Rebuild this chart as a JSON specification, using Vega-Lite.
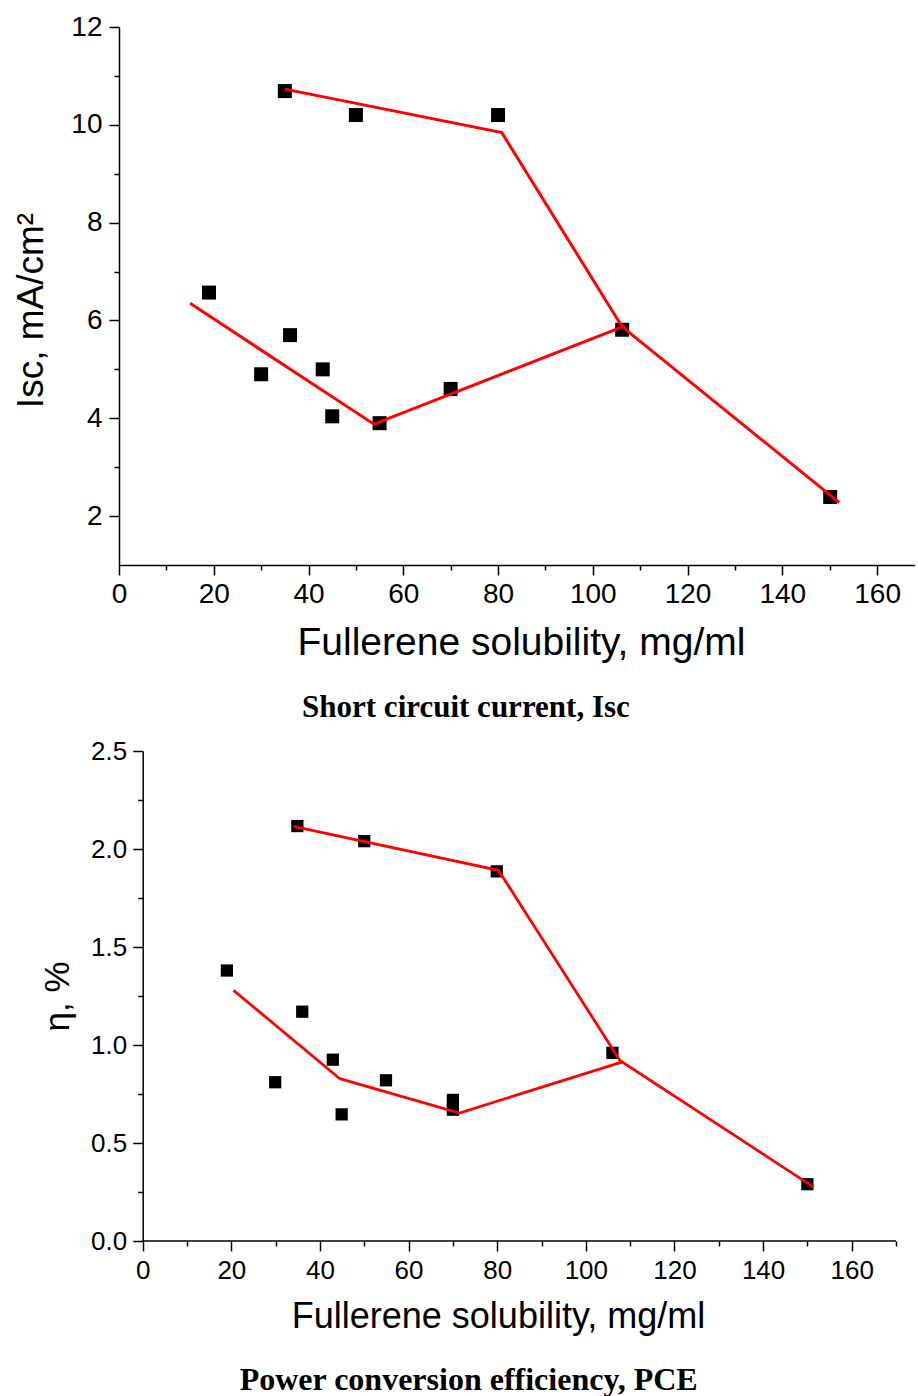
{
  "$schema": "https://vega.github.io/schema/vega-lite/v6.json",
  "padding": {"left": 12, "top": 13, "right": 0, "bottom": 0},
  "background": "white",
  "spacing": 15,
  "bounds": "full",
  "config": {
    "view": {"stroke": null},
    "axis": {"domainColor": "black", "tickColor": "black", "domainWidth": 1.5, "tickWidth": 1.5, "labelColor": "black", "titleColor": "black", "labelFont": "Liberation Sans", "titleFont": "Liberation Sans", "titleFontWeight": "normal", "grid": false, "tickSize": 10, "labelFlush": false, "labelOverlap": false},
    "title": {"font": "Liberation Serif", "fontWeight": "bold", "color": "black", "orient": "bottom", "anchor": "middle", "frame": "bounds"}
  },
  "datasets": {
    "isc_points": [
      {"solubility": 19.0, "value": 6.57},
      {"solubility": 30.0, "value": 4.90},
      {"solubility": 36.1, "value": 5.70},
      {"solubility": 43.0, "value": 5.00},
      {"solubility": 45.0, "value": 4.04},
      {"solubility": 55.0, "value": 3.90},
      {"solubility": 70.0, "value": 4.60},
      {"solubility": 106.2, "value": 5.81},
      {"solubility": 150.1, "value": 2.39},
      {"solubility": 35.0, "value": 10.69},
      {"solubility": 50.0, "value": 10.20},
      {"solubility": 80.0, "value": 10.20}
    ],
    "isc_fit": [
      {"series": "a", "solubility": 35.0, "value": 10.73},
      {"series": "a", "solubility": 80.8, "value": 9.84},
      {"series": "a", "solubility": 105.8, "value": 5.93},
      {"series": "a", "solubility": 107.6, "value": 5.76},
      {"series": "a", "solubility": 152.0, "value": 2.28},
      {"series": "b", "solubility": 15.0, "value": 6.35},
      {"series": "b", "solubility": 53.8, "value": 3.88},
      {"series": "b", "solubility": 106.5, "value": 5.88}
    ],
    "pce_points": [
      {"solubility": 19.0, "value": 1.38},
      {"solubility": 29.9, "value": 0.81},
      {"solubility": 36.0, "value": 1.17},
      {"solubility": 42.9, "value": 0.925},
      {"solubility": 44.9, "value": 0.646},
      {"solubility": 54.9, "value": 0.82},
      {"solubility": 70.0, "value": 0.72},
      {"solubility": 70.0, "value": 0.67},
      {"solubility": 106.0, "value": 0.96},
      {"solubility": 150.0, "value": 0.29},
      {"solubility": 34.9, "value": 2.117},
      {"solubility": 50.0, "value": 2.04},
      {"solubility": 79.9, "value": 1.886}
    ],
    "pce_fit": [
      {"series": "a", "solubility": 34.0, "value": 2.115},
      {"series": "a", "solubility": 80.3, "value": 1.891},
      {"series": "a", "solubility": 107.7, "value": 0.921},
      {"series": "a", "solubility": 151.4, "value": 0.275},
      {"series": "b", "solubility": 20.5, "value": 1.279},
      {"series": "b", "solubility": 44.5, "value": 0.828},
      {"series": "b", "solubility": 71.5, "value": 0.653},
      {"series": "b", "solubility": 108.1, "value": 0.913}
    ]
  },
  "vconcat": [
    {
      "title": {"text": "Short circuit current, Isc", "fontSize": 31, "offset": 31, "dx": 2},
      "width": 796,
      "height": 538,
      "layer": [
        {
          "data": {"name": "isc_points"},
          "mark": {"type": "square", "size": 196, "color": "black", "opacity": 1},
          "encoding": {
            "x": {"field": "solubility", "type": "quantitative", "scale": {"domain": [0, 168], "nice": false, "zero": false},
              "axis": {"orient": "bottom", "values": [0, 20, 40, 60, 80, 100, 120, 140, 160], "title": "Fullerene solubility, mg/ml", "titleFontSize": 39, "titleX": 402, "labelFontSize": 28, "labelPadding": 5, "titlePadding": 15}},
            "y": {"field": "value", "type": "quantitative", "scale": {"domain": [1, 12], "nice": false, "zero": false},
              "axis": {"orient": "left", "values": [2, 4, 6, 8, 10, 12], "title": "Isc, mA/cm²", "titleFontSize": 37, "titleY": 283, "labelFontSize": 28, "labelPadding": 7, "titlePadding": 20}}
          }
        },
        {
          "data": {"name": "isc_fit"},
          "mark": {"type": "line", "color": "#ff0000", "strokeWidth": 3},
          "encoding": {
            "x": {"field": "solubility", "type": "quantitative", "scale": {"domain": [0, 168], "nice": false, "zero": false},
              "axis": {"orient": "bottom", "values": [10, 30, 50, 70, 90, 110, 130, 150], "labels": false, "domain": false, "title": null, "tickSize": 5}},
            "y": {"field": "value", "type": "quantitative", "scale": {"domain": [1, 12], "nice": false, "zero": false},
              "axis": {"orient": "left", "values": [3, 5, 7, 9, 11], "labels": false, "domain": false, "title": null, "tickSize": 5}},
            "detail": {"field": "series"}
          }
        }
      ],
      "resolve": {"axis": {"x": "independent", "y": "independent"}}
    },
    {
      "title": {"text": "Power conversion efficiency, PCE", "fontSize": 32, "offset": 31, "dx": 0},
      "width": 777,
      "height": 490,
      "layer": [
        {
          "data": {"values": [{}]},
          "mark": {"type": "rule", "color": "black", "strokeWidth": 1.5},
          "encoding": {
            "x": {"datum": 0, "type": "quantitative", "axis": null},
            "x2": {"datum": 170},
            "y": {"datum": 0, "type": "quantitative", "axis": null}
          }
        },
        {
          "data": {"name": "pce_points"},
          "mark": {"type": "square", "size": 150, "color": "black", "opacity": 1},
          "encoding": {
            "x": {"field": "solubility", "type": "quantitative", "scale": {"domain": [-5.35, 170], "nice": false, "zero": false},
              "axis": {"orient": "bottom", "values": [0, 20, 40, 60, 80, 100, 120, 140, 160], "domain": false, "title": "Fullerene solubility, mg/ml", "titleFontSize": 36, "titleX": 379, "labelFontSize": 26, "labelPadding": 6, "titlePadding": 16}},
            "y": {"field": "value", "type": "quantitative", "scale": {"domain": [0, 2.5], "nice": false, "zero": false},
              "axis": {"orient": "left", "offset": -23.7, "values": [0, 0.5, 1, 1.5, 2, 2.5], "format": ".1f", "title": "η, %", "titleFontSize": 35, "labelFontSize": 26, "labelPadding": 6, "titlePadding": 15}}
          }
        },
        {
          "data": {"name": "pce_fit"},
          "mark": {"type": "line", "color": "#ff0000", "strokeWidth": 2.8},
          "encoding": {
            "x": {"field": "solubility", "type": "quantitative", "scale": {"domain": [-5.35, 170], "nice": false, "zero": false},
              "axis": {"orient": "bottom", "values": [10, 30, 50, 70, 90, 110, 130, 150, 170], "labels": false, "domain": false, "title": null, "tickSize": 5}},
            "y": {"field": "value", "type": "quantitative", "scale": {"domain": [0, 2.5], "nice": false, "zero": false},
              "axis": {"orient": "left", "offset": -23.7, "values": [0.25, 0.75, 1.25, 1.75, 2.25], "labels": false, "domain": false, "title": null, "tickSize": 5}},
            "detail": {"field": "series"}
          }
        }
      ],
      "resolve": {"axis": {"x": "independent", "y": "independent"}}
    }
  ]
}
